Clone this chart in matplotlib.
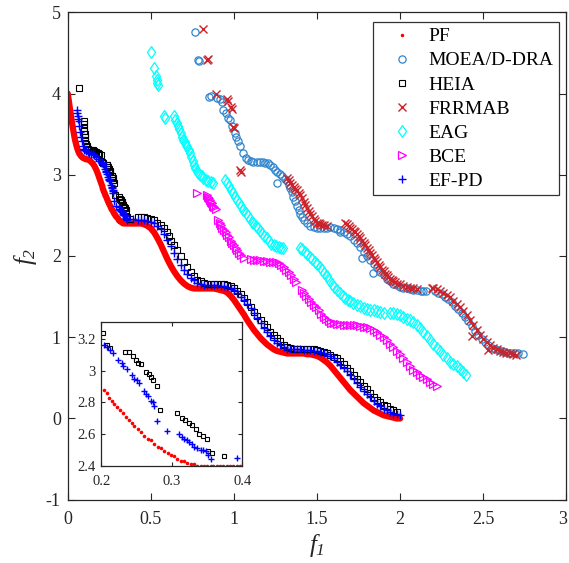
import matplotlib.pyplot as plt
from matplotlib.transforms import ScaledTranslation

plt.rcParams['font.family'] = ['Liberation Serif', 'DejaVu Serif']
plt.rcParams['mathtext.fontset'] = 'custom'
plt.rcParams['mathtext.rm'] = 'Liberation Serif:italic'
plt.rcParams['mathtext.it'] = 'Liberation Serif:italic'
plt.rcParams['axes.unicode_minus'] = False

# (f1, f2) points
pf_pts = [
    (0.000, 4.00), (0.005, 3.93), (0.010, 3.86), (0.015, 3.79), (0.020, 3.72), (0.025, 3.65),
    (0.030, 3.59), (0.035, 3.53), (0.040, 3.47), (0.045, 3.42), (0.050, 3.38), (0.055, 3.34),
    (0.060, 3.31), (0.065, 3.28), (0.070, 3.26), (0.080, 3.23), (0.090, 3.21), (0.100, 3.20),
    (0.110, 3.19), (0.120, 3.19), (0.130, 3.18), (0.140, 3.16), (0.150, 3.14), (0.160, 3.11),
    (0.170, 3.07), (0.180, 3.02), (0.190, 2.96),
    (0.204, 2.88), (0.208, 2.86), (0.211, 2.83), (0.215, 2.81), (0.218, 2.79), (0.223, 2.77),
    (0.226, 2.75), (0.231, 2.73), (0.235, 2.71), (0.239, 2.69), (0.243, 2.67), (0.247, 2.65),
    (0.252, 2.63), (0.257, 2.61), (0.261, 2.59), (0.266, 2.57), (0.271, 2.56), (0.275, 2.54),
    (0.280, 2.52), (0.285, 2.51), (0.289, 2.49), (0.294, 2.48), (0.299, 2.47), (0.303, 2.46),
    (0.308, 2.44), (0.313, 2.43), (0.317, 2.43), (0.322, 2.42), (0.327, 2.41), (0.331, 2.41),
    (0.336, 2.40), (0.341, 2.40), (0.345, 2.40), (0.350, 2.40), (0.355, 2.40), (0.359, 2.40),
    (0.364, 2.40), (0.369, 2.40), (0.373, 2.40), (0.378, 2.40), (0.383, 2.40), (0.387, 2.40),
    (0.392, 2.40), (0.397, 2.40),
    (0.42, 2.40), (0.44, 2.40), (0.46, 2.39), (0.48, 2.37), (0.50, 2.34), (0.52, 2.29),
    (0.54, 2.22), (0.56, 2.14), (0.58, 2.05), (0.60, 1.96), (0.62, 1.88), (0.64, 1.81),
    (0.66, 1.75), (0.68, 1.70), (0.70, 1.66), (0.72, 1.63), (0.74, 1.61), (0.76, 1.60),
    (0.78, 1.60), (0.80, 1.60), (0.82, 1.60), (0.84, 1.60), (0.86, 1.60), (0.88, 1.60),
    (0.90, 1.59), (0.92, 1.58), (0.94, 1.57), (0.96, 1.55), (0.98, 1.51), (1.00, 1.46),
    (1.02, 1.40), (1.04, 1.34), (1.06, 1.28), (1.08, 1.21), (1.10, 1.15), (1.12, 1.09),
    (1.14, 1.04), (1.16, 0.99), (1.18, 0.95), (1.20, 0.91), (1.22, 0.88), (1.24, 0.85),
    (1.26, 0.83), (1.28, 0.82), (1.30, 0.81), (1.32, 0.80), (1.34, 0.80), (1.36, 0.80),
    (1.38, 0.80), (1.40, 0.80), (1.42, 0.80), (1.44, 0.79), (1.46, 0.79), (1.48, 0.78),
    (1.50, 0.77), (1.52, 0.75), (1.54, 0.72), (1.56, 0.69), (1.58, 0.65), (1.60, 0.60),
    (1.62, 0.55), (1.64, 0.50), (1.66, 0.45), (1.68, 0.40), (1.70, 0.35), (1.72, 0.31),
    (1.74, 0.27), (1.76, 0.23), (1.78, 0.19), (1.80, 0.16), (1.82, 0.13), (1.84, 0.10),
    (1.86, 0.08), (1.88, 0.06), (1.90, 0.04), (1.92, 0.03), (1.94, 0.02), (1.96, 0.01),
    (1.98, 0.00), (2.00, 0.00),
]

moea_pts = [
    (0.766, 4.76), (0.786, 4.41), (0.792, 4.40), (0.852, 3.96), (0.862, 3.97), (0.900, 3.95),
    (0.915, 3.93), (0.927, 3.90), (0.936, 3.80), (0.950, 3.76), (0.966, 3.70), (0.975, 3.67),
    (0.990, 3.60), (1.007, 3.51), (1.015, 3.47), (1.025, 3.41), (1.037, 3.35), (1.053, 3.27),
    (1.070, 3.21), (1.087, 3.18), (1.100, 3.17), (1.117, 3.16), (1.137, 3.16), (1.157, 3.16),
    (1.175, 3.16), (1.190, 3.15), (1.205, 3.14), (1.218, 3.12), (1.235, 3.09), (1.247, 3.06),
    (1.257, 2.90), (1.260, 3.04), (1.275, 3.01), (1.290, 2.98), (1.305, 2.95), (1.318, 2.92),
    (1.330, 2.88), (1.340, 2.84), (1.350, 2.79), (1.358, 2.73), (1.370, 2.68), (1.380, 2.62),
    (1.390, 2.57), (1.400, 2.52), (1.410, 2.48), (1.420, 2.44), (1.440, 2.40), (1.460, 2.37),
    (1.480, 2.36), (1.500, 2.35), (1.520, 2.35), (1.540, 2.35), (1.560, 2.35), (1.578, 2.36),
    (1.600, 2.35), (1.638, 2.30), (1.620, 2.33), (1.640, 2.32), (1.660, 2.30), (1.680, 2.27),
    (1.700, 2.24), (1.720, 2.20), (1.740, 2.16), (1.769, 1.97), (1.839, 1.79), (1.760, 2.11),
    (1.780, 2.05), (1.800, 2.00), (1.820, 1.95), (1.840, 1.90), (1.860, 1.85), (1.880, 1.80),
    (1.900, 1.76), (1.920, 1.72), (1.940, 1.69), (1.960, 1.66), (1.980, 1.64), (2.000, 1.62),
    (2.020, 1.61), (2.040, 1.60), (2.060, 1.59), (2.080, 1.58), (2.100, 1.58), (2.125, 1.57),
    (2.140, 1.57), (2.155, 1.57), (2.210, 1.57), (2.230, 1.55), (2.250, 1.53), (2.270, 1.50),
    (2.290, 1.47), (2.310, 1.43), (2.330, 1.39), (2.350, 1.35), (2.370, 1.30), (2.390, 1.25),
    (2.410, 1.20), (2.430, 1.14), (2.450, 1.08), (2.470, 1.03), (2.490, 0.98), (2.510, 0.94),
    (2.530, 0.90), (2.550, 0.87), (2.570, 0.85), (2.590, 0.84), (2.610, 0.83), (2.630, 0.82),
    (2.650, 0.81), (2.670, 0.81), (2.690, 0.80), (2.710, 0.80), (2.738, 0.79),
]

heia_pts = [
    (0.068, 4.07), (0.095, 3.66), (0.097, 3.62), (0.099, 3.58), (0.101, 3.54), (0.103, 3.50),
    (0.105, 3.46), (0.107, 3.42), (0.110, 3.38), (0.114, 3.35), (0.120, 3.32), (0.130, 3.31),
    (0.140, 3.30), (0.150, 3.30), (0.160, 3.29), (0.170, 3.28), (0.180, 3.27), (0.190, 3.26),
    (0.203, 3.24), (0.208, 3.16), (0.212, 3.14), (0.234, 3.12), (0.239, 3.12), (0.245, 3.09),
    (0.249, 3.07), (0.252, 3.05), (0.257, 3.04), (0.264, 2.99), (0.267, 2.98), (0.271, 2.96),
    (0.274, 2.94), (0.279, 2.90), (0.283, 2.75), (0.308, 2.73), (0.314, 2.70), (0.319, 2.69),
    (0.324, 2.67), (0.329, 2.66), (0.334, 2.63), (0.338, 2.60), (0.344, 2.59), (0.350, 2.57),
    (0.352, 2.49), (0.357, 2.48), (0.374, 2.46),
    (0.42, 2.48), (0.44, 2.48), (0.46, 2.48), (0.48, 2.47), (0.50, 2.46), (0.52, 2.44),
    (0.54, 2.41), (0.56, 2.38), (0.58, 2.34), (0.60, 2.29), (0.61, 2.24), (0.62, 2.19),
    (0.64, 2.13), (0.66, 2.07), (0.68, 2.00), (0.70, 1.93), (0.72, 1.86), (0.74, 1.80),
    (0.76, 1.75), (0.78, 1.71), (0.80, 1.69), (0.82, 1.67), (0.84, 1.66), (0.86, 1.66),
    (0.88, 1.66), (0.90, 1.66), (0.92, 1.66), (0.94, 1.65), (0.96, 1.64), (0.98, 1.63),
    (1.00, 1.61), (1.02, 1.57), (1.04, 1.53), (1.06, 1.48), (1.08, 1.43), (1.10, 1.37),
    (1.12, 1.31), (1.14, 1.26), (1.16, 1.21), (1.18, 1.16), (1.20, 1.12), (1.22, 1.07),
    (1.24, 1.03), (1.26, 0.99), (1.28, 0.95), (1.30, 0.91), (1.32, 0.88), (1.34, 0.87),
    (1.36, 0.86), (1.38, 0.86), (1.40, 0.86), (1.42, 0.86), (1.44, 0.86), (1.46, 0.85),
    (1.48, 0.85), (1.50, 0.84), (1.52, 0.83), (1.54, 0.82), (1.56, 0.80), (1.58, 0.78),
    (1.60, 0.76), (1.62, 0.74), (1.64, 0.71), (1.66, 0.67), (1.68, 0.62), (1.70, 0.58),
    (1.72, 0.54), (1.74, 0.49), (1.76, 0.45), (1.78, 0.40), (1.80, 0.36), (1.82, 0.31),
    (1.84, 0.27), (1.86, 0.23), (1.88, 0.20), (1.90, 0.17), (1.92, 0.15), (1.94, 0.12),
    (1.96, 0.10), (1.98, 0.08),
]

frrmab_pts = [
    (0.816, 4.80), (0.836, 4.41), (0.842, 4.42), (0.890, 4.00), (0.960, 3.93), (0.966, 3.91),
    (0.985, 3.83), (0.990, 3.81), (0.996, 3.59), (1.000, 3.58), (1.037, 3.06), (1.040, 3.04),
    (1.318, 2.96), (1.330, 2.93), (1.340, 2.90), (1.350, 2.87), (1.360, 2.85), (1.370, 2.83),
    (1.378, 2.81), (1.390, 2.78), (1.400, 2.75), (1.410, 2.71), (1.420, 2.67), (1.430, 2.63),
    (1.440, 2.59), (1.450, 2.56), (1.460, 2.52), (1.470, 2.49), (1.480, 2.46), (1.490, 2.43),
    (1.500, 2.41), (1.510, 2.40), (1.520, 2.39), (1.530, 2.38), (1.540, 2.38), (1.560, 2.37),
    (1.670, 2.40), (1.680, 2.39), (1.690, 2.37), (1.700, 2.35), (1.710, 2.33), (1.720, 2.31),
    (1.730, 2.29), (1.740, 2.27), (1.750, 2.25), (1.760, 2.22), (1.770, 2.19), (1.780, 2.16),
    (1.790, 2.13), (1.800, 2.10), (1.810, 2.07), (1.820, 2.04), (1.830, 2.01), (1.840, 1.98),
    (1.850, 1.95), (1.860, 1.92), (1.870, 1.89), (1.880, 1.86), (1.890, 1.83), (1.900, 1.81),
    (1.910, 1.78), (1.920, 1.76), (1.930, 1.74), (1.940, 1.72), (1.950, 1.70), (1.960, 1.69),
    (1.970, 1.68), (1.980, 1.66), (2.000, 1.65), (2.020, 1.63), (2.040, 1.62), (2.060, 1.61),
    (2.080, 1.60), (2.100, 1.59), (2.190, 1.61), (2.200, 1.60), (2.220, 1.59), (2.240, 1.57),
    (2.260, 1.55), (2.280, 1.52), (2.300, 1.49), (2.320, 1.45), (2.340, 1.41), (2.360, 1.37),
    (2.380, 1.32), (2.400, 1.27), (2.420, 1.21), (2.431, 1.01), (2.440, 1.15), (2.460, 1.09),
    (2.480, 1.03), (2.500, 0.98), (2.520, 0.94), (2.530, 0.84), (2.540, 0.90), (2.560, 0.87),
    (2.580, 0.85), (2.600, 0.83), (2.620, 0.82), (2.640, 0.81), (2.660, 0.80), (2.680, 0.79),
    (2.700, 0.78),
]

eag_pts = [
    (0.499, 4.51), (0.519, 4.31), (0.530, 4.22), (0.535, 4.17), (0.540, 4.13), (0.545, 4.10),
    (0.579, 3.72), (0.585, 3.70), (0.640, 3.72), (0.648, 3.68), (0.656, 3.64), (0.664, 3.60),
    (0.672, 3.56), (0.680, 3.52), (0.688, 3.47), (0.696, 3.43), (0.704, 3.40), (0.712, 3.37),
    (0.720, 3.34), (0.728, 3.31), (0.736, 3.27), (0.744, 3.22), (0.752, 3.17), (0.760, 3.12),
    (0.768, 3.08), (0.776, 3.05), (0.786, 3.02), (0.796, 3.00), (0.806, 2.98), (0.816, 2.96),
    (0.830, 2.94), (0.845, 2.92), (0.860, 2.91), (0.875, 2.90),
    (0.948, 2.94), (0.960, 2.90), (0.972, 2.86), (0.984, 2.81), (0.996, 2.77), (1.008, 2.73),
    (1.020, 2.69), (1.032, 2.65), (1.044, 2.61), (1.057, 2.57), (1.070, 2.53), (1.082, 2.49),
    (1.095, 2.45), (1.107, 2.42), (1.117, 2.40), (1.130, 2.37), (1.143, 2.34), (1.157, 2.31),
    (1.170, 2.28), (1.183, 2.25), (1.197, 2.22), (1.210, 2.18), (1.225, 2.15), (1.240, 2.13),
    (1.255, 2.12), (1.270, 2.11), (1.285, 2.10), (1.297, 2.10),
    (1.395, 2.10), (1.410, 2.08), (1.425, 2.05), (1.440, 2.02), (1.455, 1.99), (1.470, 1.96),
    (1.485, 1.93), (1.500, 1.90), (1.515, 1.87), (1.530, 1.83), (1.545, 1.79), (1.560, 1.75),
    (1.575, 1.71), (1.590, 1.66), (1.605, 1.62), (1.620, 1.58), (1.638, 1.54), (1.655, 1.51),
    (1.670, 1.48), (1.685, 1.46), (1.700, 1.44), (1.719, 1.42), (1.740, 1.40), (1.760, 1.38),
    (1.780, 1.36), (1.800, 1.35), (1.820, 1.34), (1.840, 1.33), (1.860, 1.32), (1.880, 1.31),
    (1.900, 1.30), (1.940, 1.30), (1.960, 1.30), (1.980, 1.29), (2.000, 1.27), (2.020, 1.25),
    (2.040, 1.23), (2.060, 1.21), (2.080, 1.19), (2.100, 1.15), (2.120, 1.11), (2.140, 1.06),
    (2.160, 1.01), (2.180, 0.97), (2.200, 0.92), (2.220, 0.87), (2.240, 0.83), (2.260, 0.78),
    (2.280, 0.74), (2.300, 0.70), (2.320, 0.67), (2.340, 0.64), (2.360, 0.61), (2.380, 0.57),
    (2.395, 0.54),
]

bce_pts = [
    (0.780, 2.78), (0.836, 2.75), (0.842, 2.73), (0.848, 2.71), (0.855, 2.69), (0.862, 2.67),
    (0.869, 2.65), (0.876, 2.62), (0.883, 2.60), (0.890, 2.58),
    (0.907, 2.44), (0.915, 2.41), (0.923, 2.38), (0.931, 2.35), (0.940, 2.32), (0.950, 2.29),
    (0.960, 2.26), (0.970, 2.23), (0.980, 2.19), (0.990, 2.16), (1.000, 2.13), (1.010, 2.10),
    (1.020, 2.07), (1.030, 2.04), (1.045, 2.01), (1.060, 1.98),
    (1.100, 1.96), (1.120, 1.95), (1.137, 1.95), (1.157, 1.95), (1.180, 1.94), (1.200, 1.94),
    (1.220, 1.93), (1.237, 1.93), (1.255, 1.92), (1.270, 1.91), (1.285, 1.89), (1.300, 1.86),
    (1.315, 1.83), (1.330, 1.80), (1.345, 1.76), (1.360, 1.72), (1.375, 1.68),
    (1.408, 1.58), (1.420, 1.55), (1.435, 1.51), (1.450, 1.47), (1.465, 1.43), (1.480, 1.40),
    (1.495, 1.37), (1.510, 1.33), (1.525, 1.29), (1.540, 1.25), (1.555, 1.22), (1.570, 1.20),
    (1.585, 1.18), (1.600, 1.17), (1.620, 1.16), (1.640, 1.16), (1.660, 1.15), (1.680, 1.15),
    (1.700, 1.15), (1.720, 1.15), (1.740, 1.15), (1.760, 1.14), (1.780, 1.13), (1.800, 1.12),
    (1.820, 1.11), (1.840, 1.09), (1.860, 1.06), (1.880, 1.03), (1.900, 1.00), (1.920, 0.96),
    (1.940, 0.92), (1.960, 0.88), (1.980, 0.83), (2.000, 0.79), (2.020, 0.74), (2.040, 0.69),
    (2.060, 0.64), (2.080, 0.60), (2.100, 0.57), (2.120, 0.54), (2.140, 0.51), (2.160, 0.48),
    (2.180, 0.45), (2.200, 0.42), (2.220, 0.40),
]

efpd_pts = [
    (0.055, 3.80), (0.058, 3.76), (0.060, 3.72), (0.063, 3.69), (0.066, 3.66), (0.070, 3.60),
    (0.075, 3.53), (0.080, 3.47), (0.085, 3.41), (0.090, 3.36), (0.095, 3.32), (0.100, 3.30),
    (0.110, 3.29), (0.120, 3.28), (0.130, 3.27), (0.140, 3.26), (0.150, 3.25), (0.160, 3.24),
    (0.170, 3.22), (0.180, 3.20), (0.190, 3.17),
    (0.204, 3.16), (0.208, 3.15), (0.212, 3.13), (0.217, 3.11), (0.224, 3.07), (0.229, 3.05),
    (0.231, 3.03), (0.236, 3.01), (0.243, 2.97), (0.247, 2.95), (0.250, 2.94), (0.254, 2.92),
    (0.261, 2.87), (0.264, 2.85), (0.266, 2.84), (0.271, 2.81), (0.273, 2.80), (0.275, 2.78),
    (0.279, 2.68), (0.293, 2.62), (0.310, 2.60), (0.314, 2.58), (0.317, 2.57), (0.321, 2.56),
    (0.324, 2.55), (0.328, 2.54), (0.331, 2.52), (0.336, 2.51), (0.341, 2.50), (0.344, 2.50),
    (0.348, 2.49), (0.352, 2.47), (0.356, 2.44), (0.393, 2.45),
    (0.42, 2.44), (0.44, 2.44), (0.46, 2.44), (0.48, 2.43), (0.50, 2.42), (0.52, 2.40),
    (0.54, 2.37), (0.56, 2.33), (0.58, 2.27), (0.60, 2.20), (0.62, 2.12), (0.64, 2.04),
    (0.66, 1.96), (0.68, 1.89), (0.70, 1.83), (0.72, 1.78), (0.74, 1.73), (0.76, 1.70),
    (0.78, 1.67), (0.80, 1.65), (0.82, 1.64), (0.84, 1.64), (0.86, 1.64), (0.88, 1.64),
    (0.90, 1.64), (0.92, 1.63), (0.94, 1.63), (0.96, 1.62), (0.98, 1.60), (1.00, 1.58),
    (1.02, 1.54), (1.04, 1.50), (1.06, 1.46), (1.08, 1.41), (1.10, 1.36), (1.12, 1.30),
    (1.14, 1.24), (1.16, 1.17), (1.18, 1.11), (1.20, 1.06), (1.22, 1.01), (1.24, 0.96),
    (1.26, 0.93), (1.28, 0.90), (1.30, 0.88), (1.32, 0.86), (1.34, 0.85), (1.36, 0.85),
    (1.38, 0.85), (1.40, 0.85), (1.42, 0.84), (1.44, 0.84), (1.46, 0.84), (1.48, 0.83),
    (1.50, 0.83), (1.52, 0.82), (1.54, 0.81), (1.56, 0.79), (1.58, 0.77), (1.60, 0.74),
    (1.62, 0.70), (1.64, 0.66), (1.66, 0.62), (1.68, 0.58), (1.70, 0.53), (1.72, 0.48),
    (1.74, 0.44), (1.76, 0.39), (1.78, 0.34), (1.80, 0.30), (1.82, 0.26), (1.84, 0.22),
    (1.86, 0.18), (1.88, 0.15), (1.90, 0.12), (1.92, 0.10), (1.94, 0.08), (1.96, 0.06),
    (1.98, 0.05), (2.00, 0.04),
]

x_ticks = [0, 0.5, 1, 1.5, 2, 2.5, 3]
y_ticks = [-1, 0, 1, 2, 3, 4, 5]
inset_x_ticks = [0.2, 0.3, 0.4]
inset_y_ticks = [2.4, 2.6, 2.8, 3.0, 3.2]


def xy(pts):
    return [p[0] for p in pts], [p[1] for p in pts]


axis_color = '#262626'

fig = plt.figure(figsize=(5.69, 5.63), dpi=100)
ax = fig.add_axes([0.119, 0.1124, 0.8763, 0.8658])
ins = fig.add_axes([0.178, 0.1728, 0.2478, 0.2547])

for a, big in ((ax, True), (ins, False)):
    sc = 1.0 if big else 0.78
    fx, fy = xy(pf_pts)
    if big:
        a.plot(fx, fy, '-', color='red', lw=4.5, solid_capstyle='round', zorder=2)
        a.plot(fx, fy, '.', color='red', ms=3, label='PF', zorder=2)
    else:
        a.plot(fx, fy, 'o', color='red', ms=2.6, mew=0, label='PF')
    fx, fy = xy(moea_pts)
    a.plot(fx, fy, 'o', ls='none', mfc='none', mec='#2f86cf', ms=5.2 * sc, mew=0.9,
           label='MOEA/D-DRA')
    fx, fy = xy(heia_pts)
    a.plot(fx, fy, 's', ls='none', mfc='none', mec='black', ms=4.6 * sc, mew=0.8,
           label='HEIA')
    fx, fy = xy(frrmab_pts)
    a.plot(fx, fy, 'x', ls='none', color='#cc2229', ms=5.2 * sc, mew=1.0, label='FRRMAB')
    fx, fy = xy(eag_pts)
    a.plot(fx, fy, 'd', ls='none', mfc='none', mec='cyan', ms=6.2 * sc, mew=0.9, label='EAG')
    fx, fy = xy(bce_pts)
    a.plot(fx, fy, '>', ls='none', mfc='none', mec='magenta', ms=5.2 * sc, mew=0.9, label='BCE')
    fx, fy = xy(efpd_pts)
    a.plot(fx, fy, '+', ls='none', color='blue', ms=6.0 * sc, mew=1.0, label='EF-PD')

ax.set_xlim(0, 3)
ax.set_ylim(-1, 5)
ax.set_xticks(x_ticks)
ax.set_xticklabels(['0', '0.5', '1', '1.5', '2', '2.5', '3'])
ax.set_yticks(y_ticks)
ax.tick_params(direction='in', top=True, right=True, length=5, width=0.8,
               labelsize=13, colors=axis_color)
ax.tick_params(axis='x', pad=8)
ax.tick_params(axis='y', pad=5)
ax.set_xlabel(r'$f_1$', fontsize=18, color=axis_color, labelpad=3)
ax.set_ylabel(r'$f_2$', fontsize=18, color=axis_color, labelpad=5)

# keep the last x label inside the picture
last = ax.get_xticklabels()[-1]
last.set_transform(last.get_transform() + ScaledTranslation(-2.5 / 72, 0, fig.dpi_scale_trans))

ins.set_xlim(0.2, 0.3975)
ins.set_ylim(2.4, 3.305)
ins.set_xticks(inset_x_ticks)
ins.set_yticks(inset_y_ticks)
ins.set_yticklabels(['2.4', '2.6', '2.8', '3', '3.2'])
ins.tick_params(direction='in', top=True, right=True, length=3, width=0.8,
                labelsize=10.5, colors=axis_color)
ins.tick_params(axis='x', pad=7)
ins.tick_params(axis='y', pad=4)

for a in (ax, ins):
    for s in a.spines.values():
        s.set_color(axis_color)
        s.set_linewidth(0.9)

leg = ax.legend(loc='upper right', bbox_to_anchor=(0.9854, 0.980), borderaxespad=0,
                fontsize=14, frameon=True, fancybox=False, edgecolor='black',
                borderpad=0.3, labelspacing=0.33, handlelength=2.4, handletextpad=0.15,
                markerscale=1.0)
leg.get_frame().set_linewidth(0.9)

fig.savefig('out.png', dpi=100)
